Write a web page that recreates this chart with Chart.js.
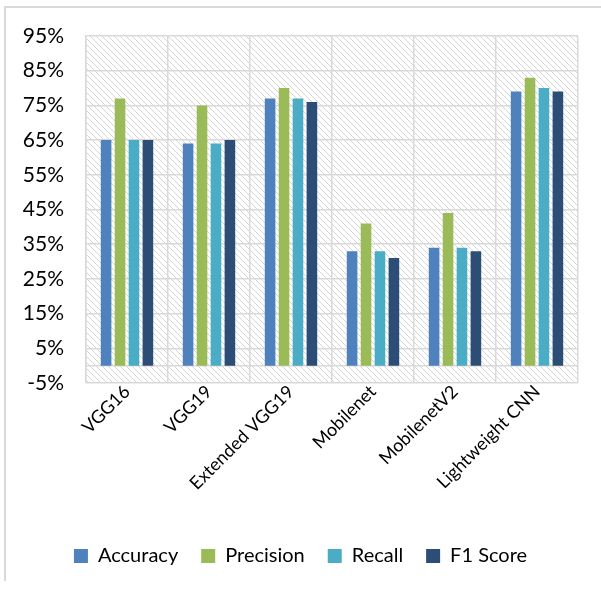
<!DOCTYPE html>
<html><head><meta charset="utf-8">
<script src="https://cdn.jsdelivr.net/npm/chart.js@4.4.0/dist/chart.umd.min.js"></script>
<style>html,body{margin:0;padding:0;background:#fff;}#wrap{position:relative;width:601px;height:590px;}</style>
</head><body><div id="wrap"><canvas id="c" width="601" height="590"></canvas></div>
<script>
const categories = ['VGG16', 'VGG19', 'Extended VGG19', 'Mobilenet', 'MobilenetV2', 'Lightweight CNN'];
const seriesNames = ['Accuracy', 'Precision', 'Recall', 'F1 Score'];
const accuracy  = [65, 64, 77, 33, 34, 79];
const precision = [77, 75, 80, 41, 44, 83];
const recall    = [65, 64, 77, 33, 34, 80];
const f1Score   = [65, 65, 76, 31, 33, 79];
const yTicks = [-5, 5, 15, 25, 35, 45, 55, 65, 75, 85, 95];
const colors = ['#4F81BD', '#9BBB59', '#4BACC6', '#2C4D75'];

function makePattern(ctx) {
  const p = document.createElement('canvas');
  p.width = 6; p.height = 6;
  const g = p.getContext('2d');
  g.strokeStyle = '#d6d6d6';
  g.lineWidth = 1;
  g.beginPath();
  g.moveTo(-1, -1); g.lineTo(7, 7);
  g.moveTo(-1, 5); g.lineTo(1, 7);
  g.moveTo(5, -1); g.lineTo(7, 1);
  g.stroke();
  return ctx.createPattern(p, 'repeat');
}

const bgPlugin = {
  id: 'bg',
  beforeDraw(chart) {
    const ctx = chart.ctx, a = chart.chartArea;
    ctx.save();
    ctx.fillStyle = '#fff';
    ctx.fillRect(0, 0, chart.width, chart.height);
    ctx.strokeStyle = '#d9d9d9';
    ctx.lineWidth = 2;
    ctx.beginPath();
    ctx.moveTo(5, 581); ctx.lineTo(5, 7); ctx.lineTo(601, 7);
    ctx.stroke();
    ctx.fillStyle = makePattern(ctx);
    ctx.fillRect(a.left, a.top, a.right - a.left, a.bottom - a.top);
    ctx.restore();
  },
  beforeDatasetsDraw(chart) {
    const ctx = chart.ctx, a = chart.chartArea;
    const y0 = chart.scales.y.getPixelForValue(0);
    ctx.save();
    ctx.strokeStyle = '#d9d9d9';
    ctx.lineWidth = 1.5;
    ctx.beginPath();
    ctx.moveTo(a.left, y0); ctx.lineTo(a.right, y0);
    ctx.stroke();
    ctx.restore();
  }
};

const seriesData = [accuracy, precision, recall, f1Score];
new Chart(document.getElementById('c'), {
  type: 'bar',
  data: {
    labels: categories,
    datasets: seriesNames.map((n, i) => ({
      label: n,
      data: seriesData[i],
      backgroundColor: colors[i],
      borderWidth: 0,
      barPercentage: 0.76,
      categoryPercentage: 0.68
    }))
  },
  options: {
    responsive: false,
    animation: false,
    layout: { padding: { top: 36, right: 23, left: 23, bottom: 14 } },
    plugins: {
      tooltip: { enabled: false },
      legend: {
        position: 'bottom',
        labels: {
          boxWidth: 14, boxHeight: 14,
          color: '#000',
          padding: 23,
          font: { family: 'Lato', size: 20 }
        }
      }
    },
    scales: {
      x: {
        grid: { color: '#d9d9d9', lineWidth: 1.5, drawTicks: false, offset: true },
        border: { display: false },
        ticks: {
          color: '#000',
          font: { family: 'Lato', size: 18 },
          maxRotation: 45, minRotation: 45,
          padding: -2
        },
        afterFit(s) { s.height = 140; }
      },
      y: {
        min: -5, max: 95,
        grid: { color: '#d9d9d9', lineWidth: 1.5, drawTicks: false },
        border: { display: true, color: '#d9d9d9', width: 1.5 },
        afterBuildTicks(s) { s.ticks = yTicks.map(v => ({ value: v })); },
        ticks: {
          color: '#000',
          font: { family: 'Lato', size: 21 },
          padding: 22,
          callback: v => v + '%'
        },
        afterFit(s) { s.width = 63; }
      }
    }
  },
  plugins: [bgPlugin]
});
</script>
</body></html>
